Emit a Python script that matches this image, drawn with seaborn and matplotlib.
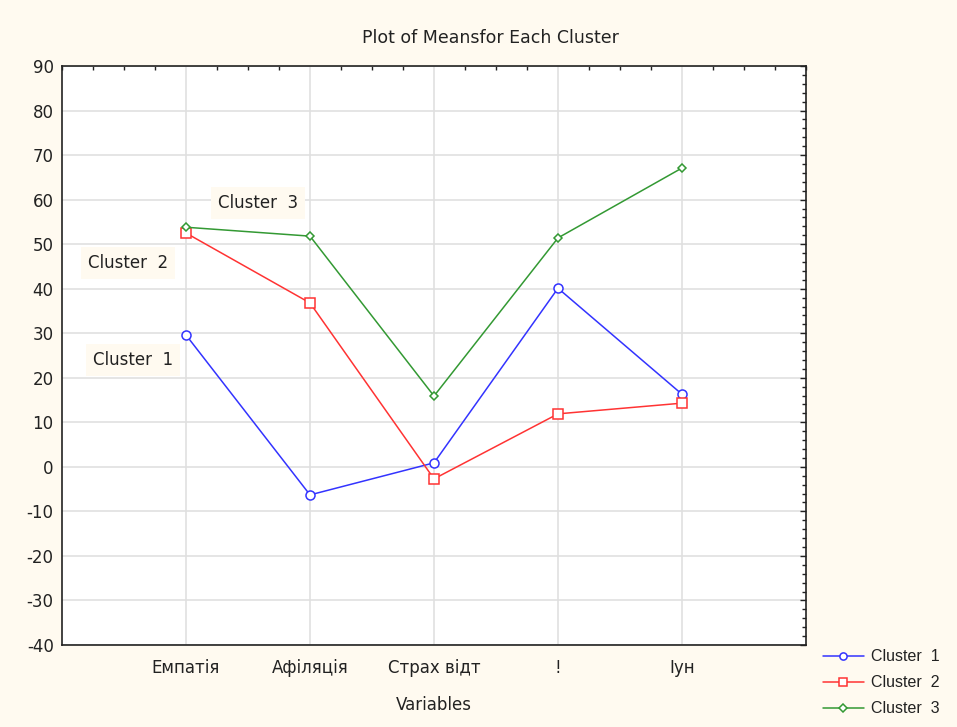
import matplotlib
matplotlib.use('Agg')
import matplotlib.pyplot as plt
from matplotlib.ticker import MultipleLocator, FixedLocator
import seaborn as sns
import pandas as pd

variables = ['Емпатія', 'Афіляція', 'Страх відт', '!', 'Іун']
clusters = ['Cluster  1', 'Cluster  2', 'Cluster  3']
cluster1 = [29.6, -6.3, 0.9, 40.1, 16.3]
cluster2 = [52.5, 36.8, -2.7, 11.9, 14.3]
cluster3 = [53.8, 51.8, 15.9, 51.4, 67.1]

rows = []
for name, vals in zip(clusters, [cluster1, cluster2, cluster3]):
    for v, val in zip(variables, vals):
        rows.append([name, v, val])
df = pd.DataFrame(rows, columns=['Cluster', 'Variable', 'Mean'])

bg = '#fffaf0'
txt = '#222222'
sns.set_style('white')
plt.rcParams['font.family'] = ['DejaVu Sans']
plt.rcParams['axes.unicode_minus'] = False

fig = plt.figure(figsize=(9.57, 7.27), dpi=100, facecolor=bg)
ax = fig.add_axes([0.0648, 0.1128, 0.7774, 0.7964])
ax.set_facecolor('white')

palette = {clusters[0]: '#3333ff', clusters[1]: '#ff3333', clusters[2]: '#339933'}
markers = {clusters[0]: 'o', clusters[1]: 's', clusters[2]: 'D'}
sns.lineplot(data=df, x='Variable', y='Mean', hue='Cluster', style='Cluster',
             palette=palette, markers=markers, dashes=False, sort=False,
             legend=False, linewidth=1.1, markersize=6, ax=ax)

sizes = [6.5, 6.5, 4.5]
for line, name, ms in zip(ax.lines, clusters, sizes):
    line.set_markerfacecolor('white')
    line.set_markeredgecolor(palette[name])
    line.set_markeredgewidth(1.1)
    line.set_markersize(ms)
    line.set_label(name)

ax.set_xlim(-1, 5)
ax.set_ylim(-40, 90)
ax.yaxis.set_major_locator(MultipleLocator(10))
ax.yaxis.set_minor_locator(MultipleLocator(2))
ax.xaxis.set_major_locator(FixedLocator(range(len(variables))))
ax.set_xticklabels(variables)
ax.xaxis.set_minor_locator(MultipleLocator(0.25))
ax.grid(True, which='major', color='#e0e0e0', linewidth=1.2)
ax.set_axisbelow(True)
ax.tick_params(which='both', direction='in', top=True, right=True,
               labelsize=12, colors=txt, length=4, width=1)
ax.tick_params(which='minor', length=3)
ax.tick_params(axis='x', which='major', length=0, pad=10)
ax.tick_params(axis='y', which='major', pad=6)
for s in ax.spines.values():
    s.set_color(txt)
    s.set_linewidth(1.2)

ax.set_xlabel('Variables', fontsize=12, color=txt, labelpad=14)
ax.set_ylabel('')
fig.text(0.512, 0.948, 'Plot of Meansfor Each Cluster', ha='center', va='center',
         fontsize=12.5, color=txt)

box = dict(facecolor=bg, edgecolor='none', pad=5)
ax.text(0.58, 59.2, 'Cluster  3', fontsize=12, color=txt, ha='center', va='center', bbox=box)
ax.text(-0.47, 45.8, 'Cluster  2', fontsize=12, color=txt, ha='center', va='center', bbox=box)
ax.text(-0.43, 24.0, 'Cluster  1', fontsize=12, color=txt, ha='center', va='center', bbox=box)

handles = ax.lines[:3]
leg = fig.legend(handles, clusters, loc='upper left', bbox_to_anchor=(0.853, 0.1155),
                 frameon=False, handlelength=2.6, labelspacing=0.69,
                 handletextpad=0.4, borderaxespad=0, labelcolor=txt, markerscale=0.8,
                 prop={'family': 'Liberation Sans', 'size': 11.5})

plt.savefig('out.png', dpi=100, facecolor=bg)
